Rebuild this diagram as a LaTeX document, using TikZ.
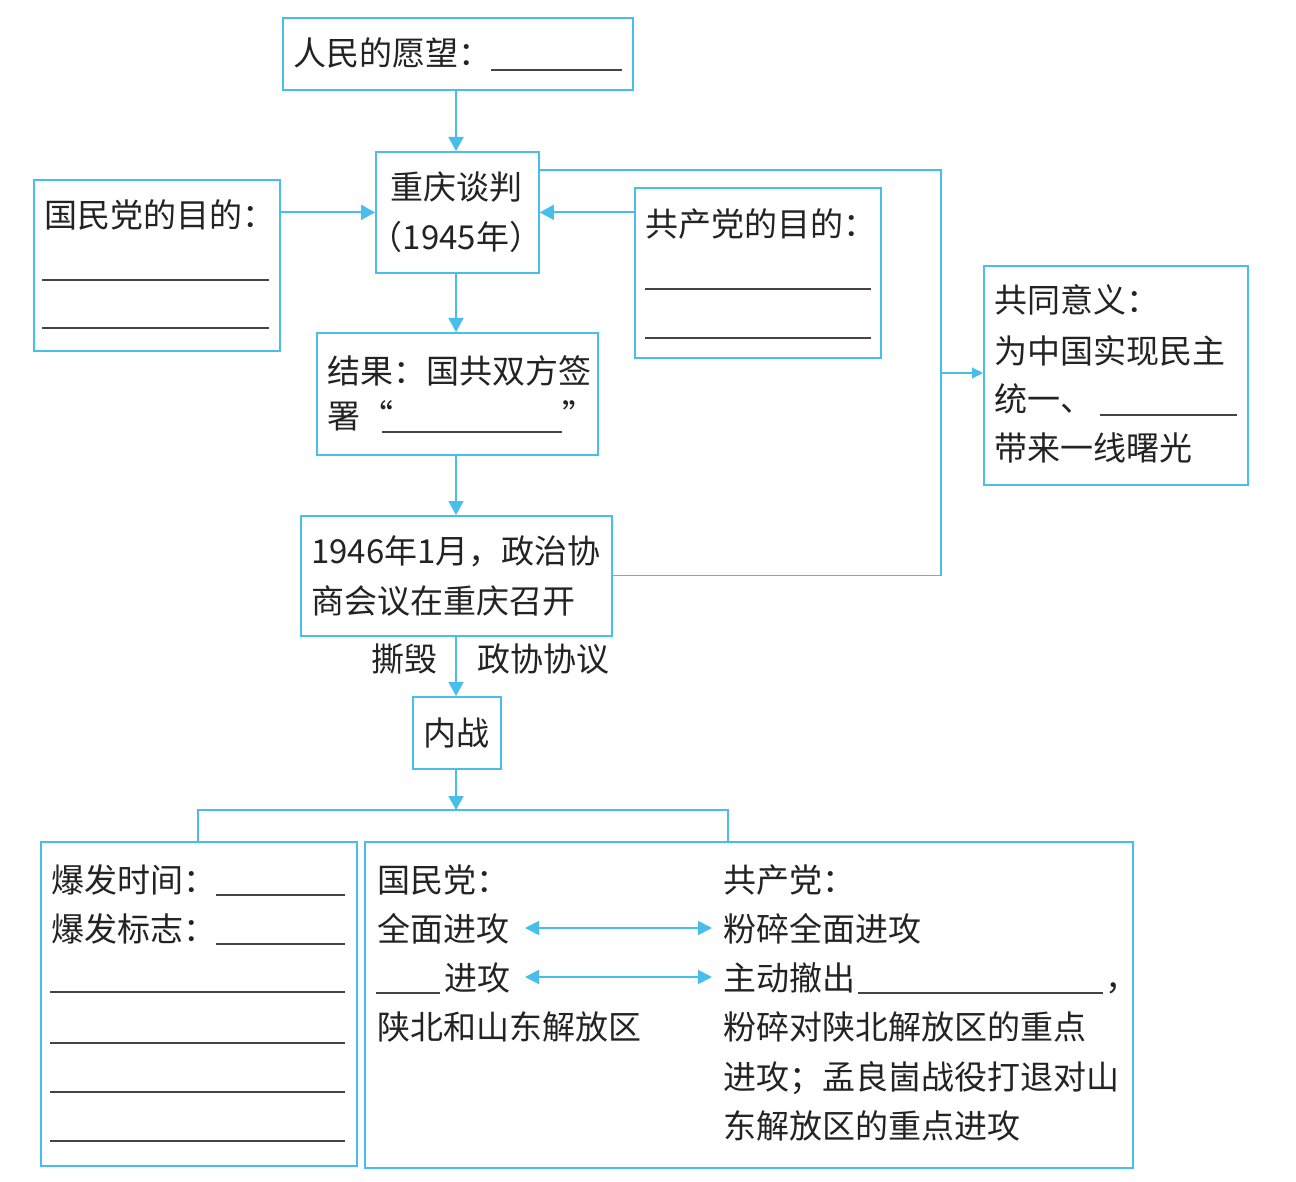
\documentclass[tikz,border=0pt]{standalone}
\usepackage{fontspec}
\setmainfont{Noto Sans CJK SC}
\usetikzlibrary{arrows.meta}
\definecolor{lb}{RGB}{72,190,236}
\definecolor{ink}{RGB}{35,35,35}
\tikzset{
  box/.style={draw=lb, line width=1.8pt, inner sep=0pt, anchor=north west},
  conn/.style={draw=lb, line width=1.8pt, -{Triangle[length=14pt,width=15pt]}},
  dconn/.style={draw=lb, line width=1.8pt, {Triangle[length=14pt,width=14pt]}-{Triangle[length=14pt,width=14pt]}},
  linkline/.style={draw=lb, line width=1.1pt},
  splitline/.style={draw=lb, line width=1.6pt},
  txt/.style={anchor=base west, inner sep=0pt, text=ink, font=\fontsize{33pt}{40pt}\selectfont},
  ctxt/.style={txt, anchor=base},
  blank/.style={draw=ink!85, line width=1.4pt}
}
\begin{document}
\begin{tikzpicture}[x=1pt, y=-1pt]
\useasboundingbox (0,0) rectangle (1296,1182);

% boxes
\node[box, minimum width=350pt, minimum height=72pt] (wish) at (282,17) {};
\node[box, minimum width=163pt, minimum height=121pt] (talk) at (375,151) {};
\node[box, minimum width=246pt, minimum height=171pt] (kmt) at (33,179) {};
\node[box, minimum width=246pt, minimum height=170pt] (cpc) at (634,187) {};
\node[box, minimum width=281pt, minimum height=122pt] (res) at (316,332) {};
\node[box, minimum width=311pt, minimum height=120pt] (meet) at (300,515) {};
\node[box, minimum width=264pt, minimum height=219pt] (sig) at (983,265) {};
\node[box, minimum width=88pt, minimum height=72pt] (war) at (412,696) {};
\node[box, minimum width=316pt, minimum height=324pt] (bl) at (40,841) {};
\node[box, minimum width=768pt, minimum height=326pt] (br) at (364,841) {};

% texts
\node[txt] (t1) at (293,66) {人民的愿望：};
\draw[blank] (491,70) -- (622,70);

\node[ctxt] (t2) at (456,200) {重庆谈判};
\node[ctxt] (t3) at (456,250) {（1945年）};

\node[txt] (t4) at (44,228) {国民党的目的：};
\draw[blank] (42,280) -- (269,280);
\draw[blank] (42,328) -- (269,328);

\node[txt] (t5) at (645,237) {共产党的目的：};
\draw[blank] (645,289) -- (871,289);
\draw[blank] (645,338) -- (871,338);

\node[txt] (t6) at (327,383) {结果：国共双方签};
\node[txt] (t7) at (327,428) {署“};
\draw[blank] (382,432) -- (562,432);
\node[txt] (t8) at (562,428) {”};

\node[txt] (t9) at (311,563) {1946年1月，政治协};
\node[txt] (t10) at (311,613) {商会议在重庆召开};

\node[ctxt] (t11) at (404,671) {撕毁};
\node[ctxt] (t12) at (543,671) {政协协议};

\node[ctxt] (t13) at (456,745) {内战};

\node[txt] (t14) at (994,313) {共同意义：};
\node[txt] (t15) at (994,363) {为中国实现民主};
\node[txt] (t16) at (994,411) {统一、};
\draw[blank] (1100,415) -- (1237,415);
\node[txt] (t17) at (994,460) {带来一线曙光};

\node[txt] (t18) at (51,892) {爆发时间：};
\draw[blank] (216,895) -- (345,895);
\node[txt] (t19) at (51,941) {爆发标志：};
\draw[blank] (216,944) -- (345,944);
\draw[blank] (50,992) -- (345,992);
\draw[blank] (50,1043) -- (345,1043);
\draw[blank] (50,1092) -- (345,1092);
\draw[blank] (50,1141) -- (345,1141);

\node[txt] (t20) at (377,892) {国民党：};
\node[txt] (t21) at (377,941) {全面进攻};
\draw[blank] (376,993) -- (440,993);
\node[txt] (t22) at (444,990) {进攻};
\node[txt] (t23) at (377,1039) {陕北和山东解放区};

\node[txt] (t24) at (723,892) {共产党：};
\node[txt] (t25) at (723,941) {粉碎全面进攻};
\node[txt] (t26) at (723,990) {主动撤出};
\draw[blank] (858,993) -- (1103,993);
\node[txt] (t27) at (1105,990) {，};
\node[txt] (t28) at (723,1039) {粉碎对陕北解放区的重点};
\node[txt] (t29) at (723,1089) {进攻；孟良崮战役打退对山};
\node[txt] (t30) at (723,1138) {东解放区的重点进攻};

% connectors (vertical spine at x=456)
\coordinate (spine) at (456,0);
\draw[conn] (wish.south -| spine) -- (talk.north -| spine);
\draw[conn] (kmt.east |- talk.west) -- (talk.west);
\draw[conn] (cpc.west |- talk.east) -- (talk.east);
\draw[conn] (talk.south -| spine) -- (res.north -| spine);
\draw[conn] (res.south -| spine) -- (meet.north -| spine);
\draw[conn] (meet.south -| spine) -- (war.north -| spine);

\coordinate (c1) at (941,170);
\coordinate (c3) at (941,373);
\draw[linkline] (talk.east |- c1) -- (c1) |- (meet.east);
\draw[linkline, -{Triangle[length=11pt,width=11pt]}] (c3) -- (sig.west |- c3);

\coordinate (sp) at (456,810);
\coordinate (spl) at (198,810);
\coordinate (spr) at (728,810);
\draw[conn] (war.south -| spine) -- (sp);
\draw[splitline] (bl.north -| spl) -- (spl) -- (spr) -- (br.north -| spr);

\coordinate (a1l) at (525,928);
\coordinate (a1r) at (712,928);
\coordinate (a2l) at (525,977);
\coordinate (a2r) at (712,977);
\draw[dconn] (a1l) -- (a1r);
\draw[dconn] (a2l) -- (a2r);
\end{tikzpicture}
\end{document}
